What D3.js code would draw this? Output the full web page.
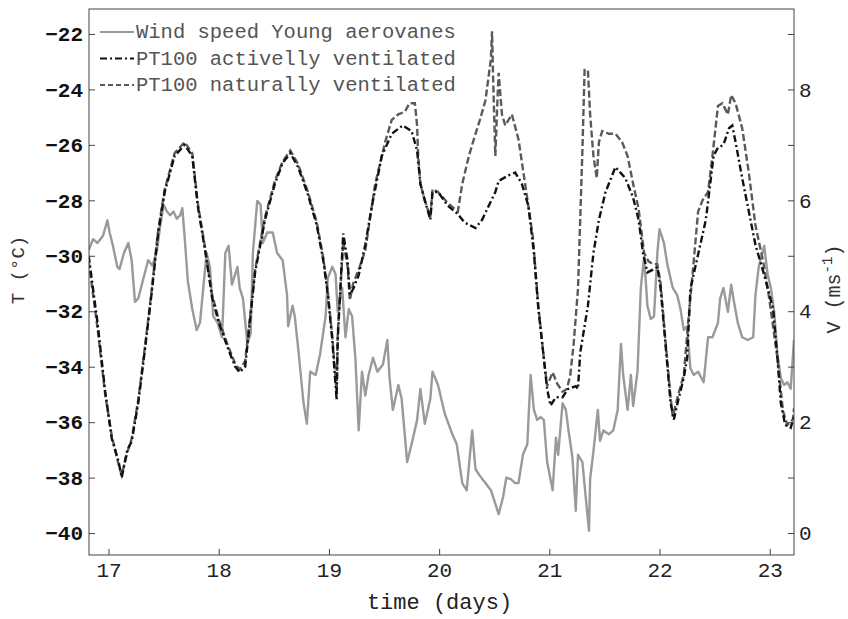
<!DOCTYPE html>
<html>
<head>
<meta charset="utf-8">
<script src="https://cdn.jsdelivr.net/npm/d3@7"></script>
<style>
  body { margin: 0; background: #fff; }
  svg { display: block; }
</style>
</head>
<body>
<div class="main"></div>
<script>
// ---- data (time in days, temperature in degC, wind in m/s) ----
let active_days = [16.82,16.90,16.97,17.03,17.09,17.12,17.17,17.21,17.27,17.33,17.39,17.45,17.51,17.60,17.69,17.76,17.81,17.88,17.94,18.00,18.08,18.15,18.19,18.24,18.33,18.42,18.51,18.58,18.65,18.72,18.81,18.89,18.95,18.99,19.03,19.07,19.08,19.13,19.17,19.19,19.22,19.27,19.33,19.39,19.48,19.57,19.67,19.75,19.80,19.83,19.87,19.92,19.94,19.99,20.08,20.17,20.23,20.33,20.39,20.45,20.51,20.54,20.63,20.69,20.75,20.81,20.86,20.90,20.95,20.98,21.01,21.06,21.12,21.17,21.24,21.26,21.28,21.35,21.40,21.45,21.51,21.60,21.69,21.76,21.81,21.85,21.89,21.94,21.98,22.01,22.05,22.10,22.13,22.17,22.22,22.25,22.28,22.33,22.37,22.42,22.46,22.49,22.53,22.58,22.63,22.66,22.69,22.75,22.81,22.87,22.95,23.03,23.07,23.10,23.14,23.19,23.22];
let active_temp = [-30.0,-32.4,-34.9,-36.6,-37.4,-38.0,-37.0,-36.7,-35.3,-33.4,-31.4,-29.2,-27.7,-26.4,-26.0,-26.4,-28.2,-29.9,-31.5,-32.4,-33.3,-34.0,-34.2,-34.0,-30.6,-28.7,-27.4,-26.65,-26.3,-26.8,-27.8,-28.9,-30.2,-31.4,-33.0,-35.2,-33.0,-29.2,-30.2,-31.4,-31.2,-30.7,-29.6,-28.2,-26.4,-25.6,-25.3,-25.5,-26.2,-27.4,-28.0,-28.7,-27.7,-27.7,-28.2,-28.5,-28.8,-29.0,-28.7,-28.2,-27.7,-27.3,-27.1,-27.0,-27.4,-28.2,-29.9,-31.9,-33.7,-34.8,-35.4,-35.1,-35.1,-34.8,-34.7,-34.8,-33.5,-31.8,-29.9,-28.7,-27.7,-26.8,-27.2,-27.9,-28.7,-29.9,-30.6,-30.5,-30.4,-31.2,-33.0,-35.3,-35.9,-35.2,-34.4,-33.7,-31.2,-30.3,-29.6,-28.7,-27.4,-26.4,-26.1,-26.0,-25.4,-25.3,-25.9,-27.2,-28.4,-29.6,-30.7,-31.9,-33.7,-35.3,-36.1,-36.2,-35.8];

let natural_days = [16.82,16.90,16.97,17.03,17.09,17.12,17.17,17.21,17.27,17.33,17.39,17.45,17.51,17.60,17.69,17.76,17.81,17.88,17.94,18.00,18.08,18.15,18.19,18.24,18.33,18.42,18.51,18.58,18.65,18.72,18.81,18.89,18.95,18.99,19.03,19.07,19.08,19.13,19.17,19.19,19.22,19.27,19.33,19.42,19.51,19.57,19.63,19.69,19.73,19.78,19.80,19.81,19.83,19.87,19.92,19.94,19.99,20.08,20.17,20.21,20.27,20.33,20.37,20.42,20.47,20.48,20.49,20.51,20.53,20.54,20.57,20.60,20.66,20.72,20.78,20.85,20.90,20.95,20.98,21.03,21.07,21.12,21.16,21.19,21.22,21.26,21.28,21.30,21.32,21.35,21.37,21.40,21.43,21.45,21.48,21.54,21.60,21.66,21.71,21.76,21.81,21.86,21.90,21.94,21.98,22.01,22.05,22.10,22.12,22.17,22.22,22.26,22.31,22.35,22.39,22.44,22.48,22.53,22.57,22.62,22.65,22.69,22.75,22.81,22.87,22.94,22.99,23.07,23.12,23.16,23.21,23.22];
let natural_temp = [-30.2,-32.6,-35.0,-36.5,-37.5,-37.9,-37.1,-36.6,-35.2,-33.3,-31.3,-29.1,-27.6,-26.3,-25.9,-26.3,-28.1,-29.8,-31.4,-32.3,-33.2,-33.9,-34.1,-33.8,-30.5,-28.6,-27.3,-26.6,-26.2,-26.7,-27.7,-28.8,-30.1,-31.3,-32.9,-34.9,-32.8,-29.5,-30.4,-31.6,-31.0,-30.5,-29.8,-27.4,-25.9,-25.1,-24.9,-24.8,-24.5,-24.5,-25.3,-26.4,-27.4,-28.0,-28.6,-27.6,-27.7,-28.1,-28.4,-27.4,-26.4,-25.6,-25.1,-24.4,-22.9,-21.9,-23.6,-26.4,-24.3,-23.4,-24.9,-25.3,-24.9,-25.8,-27.4,-29.3,-31.8,-33.7,-34.7,-34.2,-34.6,-34.9,-34.8,-34.3,-33.2,-31.2,-28.7,-26.2,-23.3,-23.3,-24.9,-26.4,-27.2,-25.9,-25.5,-25.6,-25.6,-25.9,-26.4,-27.4,-28.3,-29.9,-30.2,-30.3,-30.3,-31.0,-32.9,-35.1,-35.8,-35.0,-34.3,-32.4,-30.2,-28.4,-28.0,-27.7,-26.4,-24.6,-24.5,-24.9,-24.2,-24.5,-25.4,-27.0,-28.9,-30.2,-31.4,-33.7,-35.6,-36.1,-35.9,-35.5];

let wind_days = [16.82,16.86,16.90,16.95,16.99,17.01,17.04,17.08,17.10,17.14,17.18,17.21,17.24,17.27,17.31,17.36,17.40,17.44,17.47,17.50,17.53,17.56,17.59,17.62,17.65,17.67,17.69,17.72,17.76,17.80,17.83,17.86,17.89,17.92,17.95,17.99,18.03,18.06,18.09,18.12,18.17,18.19,18.22,18.26,18.29,18.31,18.35,18.38,18.40,18.44,18.49,18.53,18.58,18.62,18.63,18.67,18.69,18.72,18.77,18.80,18.83,18.88,18.92,18.97,18.99,19.03,19.06,19.08,19.12,19.15,19.18,19.21,19.24,19.27,19.30,19.33,19.36,19.40,19.44,19.49,19.53,19.55,19.58,19.63,19.66,19.71,19.75,19.80,19.83,19.87,19.92,19.94,19.99,20.05,20.12,20.16,20.21,20.25,20.30,20.33,20.37,20.42,20.47,20.49,20.54,20.58,20.61,20.65,20.69,20.72,20.76,20.80,20.83,20.86,20.89,20.92,20.95,20.98,21.03,21.06,21.08,21.12,21.15,21.17,21.21,21.24,21.26,21.30,21.33,21.36,21.37,21.40,21.44,21.46,21.49,21.54,21.58,21.62,21.65,21.67,21.71,21.74,21.76,21.80,21.83,21.86,21.89,21.92,21.95,21.98,22.00,22.04,22.07,22.12,22.16,22.19,22.22,22.25,22.28,22.31,22.35,22.40,22.44,22.48,22.53,22.55,22.58,22.62,22.65,22.67,22.71,22.75,22.80,22.85,22.87,22.90,22.95,22.98,23.01,23.04,23.07,23.10,23.13,23.16,23.19,23.22];
let wind_speed = [5.10,5.30,5.23,5.36,5.64,5.42,5.18,4.80,4.76,5.05,5.23,4.92,4.17,4.23,4.54,4.92,4.82,5.10,5.55,5.92,5.80,5.73,5.80,5.67,5.73,5.86,5.36,4.54,4.04,3.66,3.79,4.42,5.05,4.80,3.91,3.79,3.53,5.05,5.18,4.48,4.80,4.42,4.23,3.41,3.60,5.05,5.99,5.92,5.23,5.42,5.42,5.05,4.92,4.29,3.73,4.10,3.91,3.35,2.34,1.97,2.91,2.85,3.23,3.91,4.60,4.80,4.67,3.99,4.42,3.53,4.04,3.91,3.16,1.85,2.91,2.48,2.85,3.16,2.91,3.04,3.48,2.80,2.22,2.67,2.42,1.28,1.60,2.04,2.60,1.97,2.42,2.91,2.67,2.16,1.78,1.60,0.90,0.77,1.85,1.15,1.03,0.90,0.77,0.65,0.34,0.65,1.00,0.97,0.90,0.90,1.41,1.60,2.85,2.22,2.04,2.09,2.04,1.28,0.77,1.72,1.41,2.34,2.22,1.91,1.35,0.40,1.41,1.28,0.65,0.04,0.97,1.47,2.22,1.66,1.85,1.78,1.85,2.22,3.41,2.85,2.22,2.85,2.29,2.91,4.42,4.98,4.10,3.86,3.91,5.05,5.48,5.23,4.85,4.42,4.29,4.04,3.66,3.73,2.97,2.85,2.91,2.72,3.53,3.53,3.79,4.23,4.42,3.99,4.48,4.23,3.79,3.53,3.48,3.53,4.29,4.80,5.18,4.67,4.42,3.99,3.23,2.80,2.67,2.72,2.60,3.48];

// ticks and labels
let x_ticks = [17, 18, 19, 20, 21, 22, 23];
let t_ticks = [-40, -38, -36, -34, -32, -30, -28, -26, -24, -22];
let v_ticks = [0, 1, 2, 3, 4, 5, 6, 7, 8, 9];
let legend_labels = ["Wind speed Young aerovanes", "PT100 activelly ventilated", "PT100 naturally ventilated"];

// ---- layout ----
let width = 848, height = 619;
let m_left = 89, m_right = 794, m_top = 9, m_bottom = 555;
let mono = "'Liberation Mono', 'DejaVu Sans Mono', monospace";

let svg = d3.select("body").select("div.main").append("svg")
    .attr("width", width)
    .attr("height", height);

let x = d3.scaleLinear().domain([16.823, 23.22]).range([m_left, m_right]);
let yT = d3.scaleLinear().domain([-40.79, -21.10]).range([m_bottom, m_top]);
let yV = d3.scaleLinear().domain([-0.397, 9.451]).range([m_bottom, m_top]);

// clip the curves to the frame
svg.append("clipPath").attr("id", "frame")
    .append("rect")
    .attr("x", m_left).attr("y", m_top)
    .attr("width", m_right - m_left).attr("height", m_bottom - m_top);

let plot = svg.append("g").attr("clip-path", "url(#frame)");

let lineT = d3.line().x(d => x(d[0])).y(d => yT(d[1]));
let lineV = d3.line().x(d => x(d[0])).y(d => yV(d[1]));

// wind speed, right axis
plot.append("path")
    .datum(d3.zip(wind_days, wind_speed))
    .attr("d", lineV)
    .attr("fill", "none")
    .attr("stroke", "#9a9a9a")
    .attr("stroke-width", 2.4)
    .attr("stroke-linejoin", "round");

// naturally ventilated, dashed grey
plot.append("path")
    .datum(d3.zip(natural_days, natural_temp))
    .attr("d", lineT)
    .attr("fill", "none")
    .attr("stroke", "#5a5a5a")
    .attr("stroke-width", 2.4)
    .attr("stroke-dasharray", "7,3");

// actively ventilated, black dash-dot
plot.append("path")
    .datum(d3.zip(active_days, active_temp))
    .attr("d", lineT)
    .attr("fill", "none")
    .attr("stroke", "#111")
    .attr("stroke-width", 2.4)
    .attr("stroke-dasharray", "7,3,2,3");

// ---- axes (ticks pointing inwards, like matlab) ----
let axL = svg.append("g")
    .attr("transform", "translate(" + m_left + ",0)")
    .call(d3.axisLeft(yT).tickValues(t_ticks).tickSize(-6).tickSizeOuter(0).tickPadding(6));
axL.selectAll("text")
    .attr("font-family", mono).attr("font-size", 21).attr("font-weight", "bold").attr("fill", "#111");

let axR = svg.append("g")
    .attr("transform", "translate(" + m_right + ",0)")
    .call(d3.axisRight(yV).tickValues(v_ticks).tickSize(-6).tickSizeOuter(0).tickPadding(5)
        .tickFormat(d => d % 2 == 0 ? d : ""));
axR.selectAll("text")
    .attr("font-family", mono).attr("font-size", 21).attr("fill", "#222");

let axB = svg.append("g")
    .attr("transform", "translate(0," + m_bottom + ")")
    .call(d3.axisBottom(x).tickValues(x_ticks).tickSize(-6).tickSizeOuter(0).tickPadding(7)
        .tickFormat(d3.format("d")));
axB.selectAll("text")
    .attr("font-family", mono).attr("font-size", 21).attr("fill", "#222");

svg.selectAll(".domain").remove();
svg.selectAll(".tick line").attr("stroke", "#444");

// frame
svg.append("rect")
    .attr("x", m_left).attr("y", m_top)
    .attr("width", m_right - m_left).attr("height", m_bottom - m_top)
    .attr("fill", "none")
    .attr("stroke", "#444")
    .attr("stroke-width", 1);

// axis titles
svg.append("text")
    .attr("x", (m_left + m_right) / 2 - 2).attr("y", 609)
    .attr("text-anchor", "middle")
    .attr("font-family", mono).attr("font-size", 22).attr("fill", "#222")
    .text("time (days)");

svg.append("text")
    .attr("transform", "translate(24,270) rotate(-90)")
    .attr("text-anchor", "middle")
    .attr("font-family", mono).attr("font-size", 19).attr("fill", "#333")
    .text("T (°C)");

let vlab = svg.append("text")
    .attr("transform", "translate(840,289) rotate(-90)")
    .attr("text-anchor", "middle")
    .attr("font-family", mono).attr("font-size", 20).attr("fill", "#333");
vlab.append("tspan").text("V (ms");
vlab.append("tspan").attr("dy", -8).attr("font-size", 14).text("-1");
vlab.append("tspan").attr("dy", 8).text(")");

// ---- legend ----
let legend_styles = [
    { stroke: "#9a9a9a", dash: null },
    { stroke: "#111", dash: "7,3,2,3" },
    { stroke: "#5a5a5a", dash: "5,3" }
];
let leg = svg.append("g");
legend_labels.forEach(function(label, i) {
    let yy = 32 + i * 26.5;
    leg.append("line")
        .attr("x1", 100).attr("x2", 134)
        .attr("y1", yy).attr("y2", yy)
        .attr("stroke", legend_styles[i].stroke)
        .attr("stroke-width", 2)
        .attr("stroke-dasharray", legend_styles[i].dash);
    leg.append("text")
        .attr("x", 136).attr("y", yy + 6)
        .attr("font-family", mono).attr("font-size", 20.5).attr("fill", "#555")
        .text(label);
});
</script>
</body>
</html>
